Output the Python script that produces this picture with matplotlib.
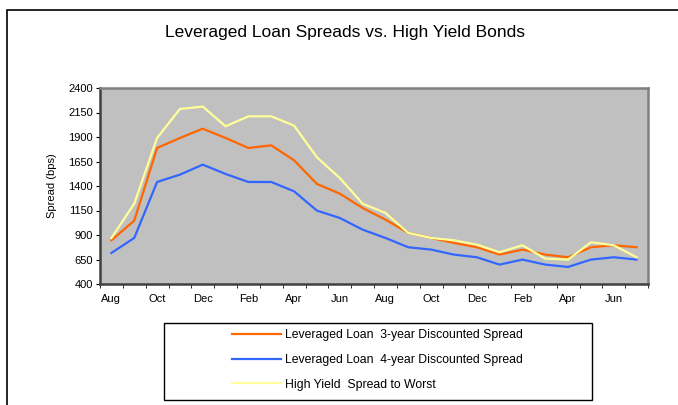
import matplotlib
matplotlib.use('Agg')
import matplotlib.pyplot as plt
from matplotlib.patches import Rectangle
from matplotlib.ticker import FixedLocator

plt.rcParams['font.family'] = ['Liberation Sans', 'DejaVu Sans']

# dados (bps), Aug ano 1 .. Jul ano 3
months = ['Aug', 'Sep', 'Oct', 'Nov', 'Dec', 'Jan', 'Feb', 'Mar', 'Apr', 'May', 'Jun', 'Jul'] * 2
loan_3yr = [846, 1046, 1788, 1890, 1985, 1890, 1788, 1815, 1662, 1421, 1322, 1176,
            1057, 921, 870, 819, 775, 700, 751, 700, 673, 775, 795, 775]
loan_4yr = [717, 870, 1441, 1516, 1618, 1523, 1441, 1441, 1346, 1149, 1074, 955,
            870, 775, 751, 700, 673, 598, 649, 598, 574, 649, 673, 649]
hy_stw = [869, 1220, 1890, 2186, 2210, 2009, 2111, 2111, 2016, 1693, 1482, 1220,
          1125, 921, 870, 846, 802, 724, 795, 659, 649, 826, 795, 673]
y_ticks = [400, 650, 900, 1150, 1400, 1650, 1900, 2150, 2400]
series_names = ['Leveraged Loan  3-year Discounted Spread',
                'Leveraged Loan  4-year Discounted Spread',
                'High Yield  Spread to Worst']
colors = ['#FF6600', '#3366FF', '#FFFF99']

W, H = 678, 405
fig = plt.figure(figsize=(W / 100, H / 100), dpi=100)

# moldura externa (cortada à direita e embaixo)
fig.patches.append(Rectangle((7 / W, -0.1), 1.2, 1 - 10 / H + 0.1, transform=fig.transFigure,
                             fill=False, edgecolor='black', linewidth=1.2))

ax = fig.add_axes([100 / W, 1 - 284 / H, 548 / W, 196 / H])
ax.set_facecolor('#C0C0C0')
for s in ax.spines.values():
    s.set_color('#808080')
    s.set_linewidth(1.8)
ax.spines['left'].set_color('#404040')
ax.spines['bottom'].set_color('#404040')

x = list(range(len(months)))
lines = []
for vals, c in zip([loan_3yr, loan_4yr, hy_stw], colors):
    ln, = ax.plot(x, vals, color=c, linewidth=1.6)
    lines.append(ln)

ax.set_xlim(-0.5, len(months) - 0.5)
ax.set_ylim(400, 2400)
ax.yaxis.set_major_locator(FixedLocator(y_ticks))
ax.tick_params(axis='y', labelsize=8, length=3, color='black', pad=2)

ax.xaxis.set_major_locator(FixedLocator(x[::2]))
ax.set_xticklabels(months[::2])
ax.xaxis.set_minor_locator(FixedLocator([i - 0.5 for i in range(len(months) + 1)]))
ax.tick_params(axis='x', which='major', length=0, labelsize=8, pad=7)
ax.tick_params(axis='x', which='minor', length=3, color='black')

ax.set_ylabel('Spread (bps)', fontsize=8, labelpad=8)

fig.text(345 / W, 1 - 32 / H, 'Leveraged Loan Spreads vs. High Yield Bonds',
         ha='center', va='center', fontsize=12.5)

# caixa da legenda
fig.patches.append(Rectangle((164 / W, 1 - 400 / H), (592 - 164) / W, (400 - 323) / H,
                             transform=fig.transFigure, fill=False, edgecolor='black', linewidth=1))
fig.legend(lines, series_names, loc='upper left', bbox_to_anchor=(221 / W, 1 - 318 / H),
           frameon=False, fontsize=8.8, handlelength=4.0, handletextpad=0.3, labelspacing=1.05)

fig.savefig('out.png', dpi=100)
